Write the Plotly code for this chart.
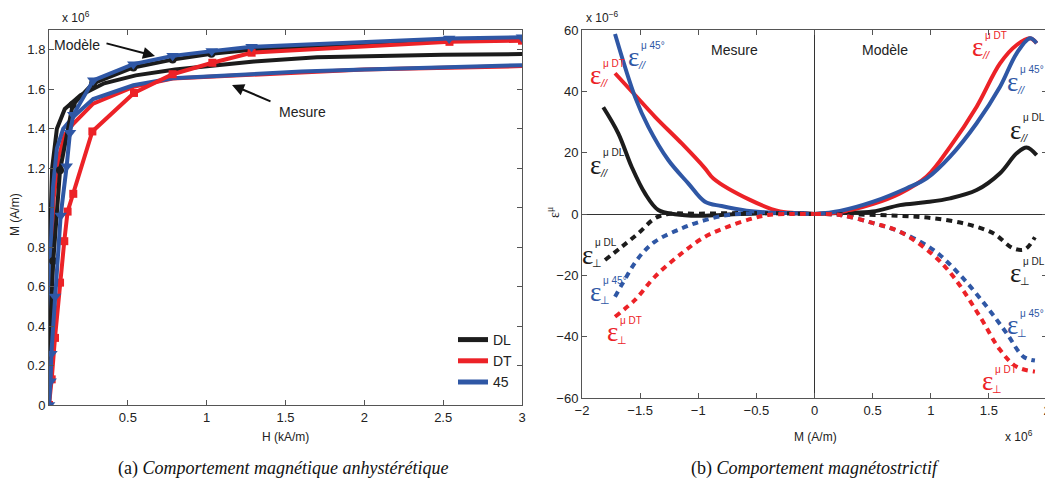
import plotly.graph_objects as go

# ---- (a) anhysteretic magnetic behaviour : H (kA/m), M (x1e6 A/m)
dl_mod_h = [0, 0.001, 0.003, 0.027, 0.07, 0.15, 0.28, 0.535, 0.784, 1.03, 1.285, 2.54, 3.0]
dl_mod_m = [0, 0.16, 0.30, 0.73, 1.19, 1.52, 1.63, 1.71, 1.75, 1.78, 1.80, 1.845, 1.85]
dt_mod_h = [0, 0.017, 0.038, 0.07, 0.097, 0.118, 0.154, 0.275, 0.539, 0.784, 1.036, 1.285, 2.54, 3.0]
dt_mod_m = [0, 0.13, 0.34, 0.62, 0.83, 0.98, 1.07, 1.386, 1.581, 1.676, 1.734, 1.785, 1.84, 1.846]
d45_mod_h = [0, 0.01, 0.015, 0.038, 0.074, 0.112, 0.133, 0.154, 0.281, 0.535, 0.784, 1.032, 1.285, 2.538, 3.0]
d45_mod_m = [0, 0.12, 0.26, 0.55, 0.96, 1.21, 1.38, 1.47, 1.645, 1.727, 1.769, 1.793, 1.815, 1.857, 1.863]

dl_mes_h = [0, 0.003, 0.008, 0.02, 0.05, 0.1, 0.2, 0.35, 0.55, 0.8, 1.0, 1.3, 1.7, 2.0, 2.5, 3.0]
dl_mes_m = [0, 0.5, 0.9, 1.2, 1.4, 1.5, 1.57, 1.63, 1.67, 1.70, 1.715, 1.74, 1.762, 1.768, 1.775, 1.778]
dt_mes_h = [0, 0.006, 0.015, 0.03, 0.06, 0.1, 0.154, 0.28, 0.535, 0.784, 1.2, 1.6, 2.0, 2.5, 3.0]
dt_mes_m = [0, 0.35, 0.75, 1.05, 1.25, 1.37, 1.425, 1.527, 1.612, 1.654, 1.668, 1.685, 1.70, 1.71, 1.717]
d45_mes_h = [0, 0.005, 0.012, 0.025, 0.05, 0.09, 0.154, 0.28, 0.535, 0.784, 1.2, 1.6, 2.0, 2.5, 3.0]
d45_mes_m = [0, 0.4, 0.8, 1.1, 1.3, 1.4, 1.46, 1.55, 1.62, 1.655, 1.675, 1.69, 1.70, 1.71, 1.722]

# ---- (b) magnetostrictive behaviour : M (x1e6 A/m), strain (x1e-6)
# measurement (M < 0 side)
mes_par_dl_x = [-1.817, -1.688, -1.573, -1.458, -1.344, -1.2, -1.0, -0.8, -0.5, -0.2, 0]
mes_par_dl_y = [34.8, 26.3, 15.4, 6.7, 1.3, -0.1, -0.6, -0.3, 0.2, 0.3, 0]
mes_par_dt_x = [-1.716, -1.544, -1.372, -1.142, -0.942, -0.87, -0.555, -0.297, -0.1, 0]
mes_par_dt_y = [45.9, 38.8, 31.7, 23.0, 14.9, 11.6, 4.6, 0.8, 0.2, 0]
mes_par_45_x = [-1.716, -1.544, -1.43, -1.258, -1.086, -0.942, -0.8, -0.584, -0.4, -0.1, 0]
mes_par_45_y = [58.7, 38.2, 28.5, 17.6, 10.0, 4.0, 2.6, 1.1, 0.5, 0.2, 0]
mes_per_dl_x = [-1.802, -1.658, -1.516, -1.372, -1.258, -1.0, -0.6, -0.3, 0]
mes_per_dl_y = [-15.0, -10.7, -6.3, -1.4, 0, 0.1, 0.3, 0.2, 0]
mes_per_dt_x = [-1.716, -1.544, -1.372, -1.142, -0.942, -0.742, -0.528, -0.4, -0.2, 0]
mes_per_dt_y = [-33.5, -28.0, -20.4, -12.8, -7.4, -4.1, -1.4, -0.3, 0, 0]
mes_per_45_x = [-1.716, -1.658, -1.516, -1.372, -1.142, -0.942, -0.742, -0.5, -0.2, 0]
mes_per_45_y = [-27.0, -23.1, -14.4, -9.0, -4.7, -2.0, -0.3, 0.3, 0.2, 0]
# model (M > 0 side)
mod_par_dl_x = [0, 0.25, 0.5, 0.735, 0.95, 1.166, 1.395, 1.596, 1.739, 1.825, 1.911]
mod_par_dl_y = [0, 0.4, 0.8, 2.9, 3.8, 5.1, 7.8, 13.3, 19.8, 21.7, 19.2]
mod_par_dt_x = [0, 0.2, 0.506, 0.735, 0.965, 1.166, 1.395, 1.596, 1.739, 1.854, 1.911]
mod_par_dt_y = [0, 0.5, 3.3, 6.7, 12.2, 21.9, 35.0, 49.1, 55.1, 57.3, 55.7]
mod_par_45_x = [0, 0.219, 0.506, 0.793, 0.965, 1.166, 1.395, 1.596, 1.739, 1.854, 1.911]
mod_par_45_y = [0, 1.0, 4.0, 8.4, 11.6, 18.7, 29.6, 41.5, 52.4, 57.3, 55.7]
mod_per_dl_x = [0, 0.4, 0.735, 1.022, 1.309, 1.538, 1.71, 1.81, 1.896]
mod_per_dl_y = [0, -0.2, -0.6, -1.4, -3.3, -6.3, -11.2, -11.5, -7.6]
mod_per_dt_x = [0, 0.22, 0.506, 0.735, 1.022, 1.194, 1.424, 1.596, 1.739, 1.896]
mod_per_dt_y = [0, -0.3, -3.0, -5.8, -13.4, -20.4, -33.5, -44.3, -49.8, -51.4]
mod_per_45_x = [0, 0.22, 0.506, 0.735, 1.022, 1.252, 1.481, 1.653, 1.796, 1.896]
mod_per_45_y = [0, -0.3, -3.0, -5.8, -11.7, -19.9, -30.2, -38.9, -46.5, -47.8]

BLACK = '#1c1c1c'
RED = '#ec2227'
BLUE = '#2f57a5'
FONT = 'Liberation Sans'
SERIF = 'Liberation Serif'

fig = go.Figure()

# left chart: measured curves (no markers) then model curves (markers)
for h, m, c in [(dl_mes_h, dl_mes_m, BLACK), (dt_mes_h, dt_mes_m, RED), (d45_mes_h, d45_mes_m, BLUE)]:
    fig.add_trace(go.Scatter(x=h, y=m, mode='lines', line=dict(color=c, width=4),
                             showlegend=False, xaxis='x', yaxis='y'))
for h, m, c, sym, sz in [(dl_mod_h, dl_mod_m, BLACK, 'circle', 8),
                         (dt_mod_h, dt_mod_m, RED, 'square', 8),
                         (d45_mod_h, d45_mod_m, BLUE, 'triangle-down', 11)]:
    fig.add_trace(go.Scatter(x=h, y=m, mode='lines+markers', line=dict(color=c, width=4),
                             marker=dict(symbol=sym, size=sz, color=c),
                             showlegend=False, xaxis='x', yaxis='y'))
# legend entries
for name, c in [('DL', BLACK), ('DT', RED), ('45', BLUE)]:
    fig.add_trace(go.Scatter(x=[None], y=[None], mode='lines', name=name,
                             line=dict(color=c, width=5), xaxis='x', yaxis='y'))

# right chart
DOT = '6px,5px'
right = [
    (mes_par_dl_x, mes_par_dl_y, BLACK, 'solid'), (mes_par_dt_x, mes_par_dt_y, RED, 'solid'),
    (mes_par_45_x, mes_par_45_y, BLUE, 'solid'),
    (mod_par_dl_x, mod_par_dl_y, BLACK, 'solid'), (mod_par_dt_x, mod_par_dt_y, RED, 'solid'),
    (mod_par_45_x, mod_par_45_y, BLUE, 'solid'),
    (mes_per_dl_x, mes_per_dl_y, BLACK, DOT), (mes_per_45_x, mes_per_45_y, BLUE, DOT),
    (mes_per_dt_x, mes_per_dt_y, RED, DOT),
    (mod_per_dl_x, mod_per_dl_y, BLACK, DOT), (mod_per_45_x, mod_per_45_y, BLUE, DOT),
    (mod_per_dt_x, mod_per_dt_y, RED, DOT),
]
for x, y, c, d in right:
    fig.add_trace(go.Scatter(x=x, y=y, mode='lines', line=dict(color=c, width=4, dash=d, shape='spline'),
                             showlegend=False, xaxis='x2', yaxis='y2'))

# the page body adds an 8px offset, so the figure is 8px smaller than the window
OFF = 8
W, H = 1053 - OFF, 488 - OFF


def px2x(px):
    return (px - OFF) / W


def px2y(py):
    return 1 - (py - OFF) / H


ax_common = dict(showline=True, linecolor='#555', linewidth=1, mirror='ticks', ticks='inside',
                 ticklen=5, tickcolor='#555', showgrid=False, zeroline=False, automargin=False,
                 tickfont=dict(family=FONT, size=13, color='#222'))

annotations = []


def text(px, py, s, size=13, color='#222', family=FONT, angle=0, xanchor='center'):
    annotations.append(dict(xref='paper', yref='paper', x=px2x(px), y=px2y(py), text=s,
                            showarrow=False, textangle=angle, xanchor=xanchor, yanchor='middle',
                            font=dict(family=family, size=size, color=color)))


# axis titles, exponents, captions
text(285, 437, 'H (kA/m)', 12)
text(15, 215, 'M (A/m)', 12, angle=-90)
text(815, 437, 'M (A/m)', 12)
text(553, 213, 'ε<sup>μ</sup>', 14, family=SERIF, angle=-90)
text(60, 17, 'x 10<sup>6</sup>', 12, xanchor='left')
text(584, 17, 'x 10<sup>−6</sup>', 12, xanchor='left')
text(1003, 436, 'x 10<sup>6</sup>', 12, xanchor='left')
text(283, 468, '(a) <i>Comportement magnétique anhystérétique</i>', 18, '#111', SERIF)
text(815, 468, '(b) <i>Comportement magnétostrictif</i>', 18, '#111', SERIF)
text(77, 45, 'Modèle', 14)
text(302, 112, 'Mesure', 14)
text(734, 50, 'Mesure', 14)
text(885, 50, 'Modèle', 14)

# arrows on left chart
for hx, hy, ax, ay in [(155, 56, -50, -13), (232, 85, 40, 17)]:
    annotations.append(dict(xref='paper', yref='paper', x=px2x(hx), y=px2y(hy), ax=ax, ay=ay,
                            text='', showarrow=True, arrowhead=2, arrowsize=1.2, arrowwidth=2,
                            arrowcolor='#111'))


def eps(px, py, sup, sub, color):
    text(px, py, 'ε', 27, color, SERIF, xanchor='left')
    text(px + 13, py - 12, sup, 10, color, FONT, xanchor='left')
    text(px + 10, py + 8, sub, 11, color, FONT, xanchor='left')


eps(626, 57, 'μ 45°', '<i>//</i>', BLUE)
eps(588, 75, 'μ DT', '<i>//</i>', RED)
eps(588, 165, 'μ DL', '<i>//</i>', BLACK)
eps(970, 47, 'μ DT', '<i>//</i>', RED)
eps(1005, 82, 'μ 45°', '<i>//</i>', BLUE)
eps(1008, 130, 'μ DL', '<i>//</i>', BLACK)
eps(580, 255, 'μ DL', '⊥', BLACK)
eps(588, 292, 'μ 45°', '⊥', BLUE)
eps(605, 332, 'μ DT', '⊥', RED)
eps(1008, 273, 'μ DL', '⊥', BLACK)
eps(1005, 325, 'μ 45°', '⊥', BLUE)
eps(980, 381, 'μ DT', '⊥', RED)

fig.update_layout(
    width=W, height=H,
    margin=dict(l=0, r=0, t=0, b=0),
    paper_bgcolor='white', plot_bgcolor='white',
    xaxis=dict(ax_common, domain=[px2x(49), px2x(522)], range=[0, 3],
               tickvals=[0, 0.5, 1, 1.5, 2, 2.5, 3], ticktext=['', '0.5', '1', '1.5', '2', '2.5', '3'],
               anchor='y'),
    yaxis=dict(ax_common, domain=[px2y(405), px2y(30)], range=[0, 1.9],
               tickvals=[0, 0.2, 0.4, 0.6, 0.8, 1, 1.2, 1.4, 1.6, 1.8], anchor='x'),
    xaxis2=dict(ax_common, domain=[px2x(582), px2x(1047)], range=[-2, 2], dtick=0.5, anchor='y2',
                zeroline=True, zerolinecolor='#333', zerolinewidth=1),
    yaxis2=dict(ax_common, domain=[px2y(398), px2y(30)], range=[-60, 60], dtick=20, anchor='x2',
                zeroline=True, zerolinecolor='#333', zerolinewidth=1),
    legend=dict(x=px2x(518), y=px2y(398), xanchor='right', yanchor='bottom',
                bgcolor='rgba(0,0,0,0)', font=dict(family=FONT, size=14, color='#222'),
                itemwidth=30, tracegroupgap=0),
    annotations=annotations,
    showlegend=True,
)

fig.write_html("out.html")
